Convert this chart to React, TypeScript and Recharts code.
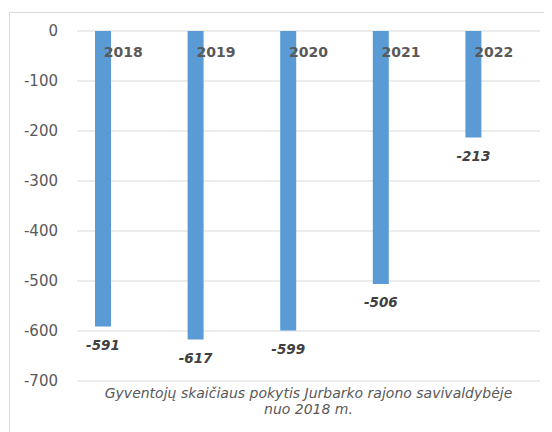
import React from "react";
import { BarChart, Bar, XAxis, YAxis, CartesianGrid, LabelList } from "recharts";

const years = ["2018", "2019", "2020", "2021", "2022"];
const changes = [-591, -617, -599, -506, -213];
const yTicks = [0, -100, -200, -300, -400, -500, -600, -700];
const captionLines = [
  "Gyventojų skaičiaus pokytis Jurbarko rajono savivaldybėje",
  "nuo 2018 m.",
];

const data = years.map((y, i) => ({ year: y, value: changes[i], empty: null }));

const FONT = "'DejaVu Sans', sans-serif";
const PLOT_TOP = 23;

const YearTick = (props: any) => {
  const { x, payload } = props;
  return (
    <text
      x={x}
      y={PLOT_TOP + 21}
      textAnchor="middle"
      dominantBaseline="central"
      fill="#595959"
      fontFamily={FONT}
      fontSize={14}
      fontWeight="bold"
    >
      {payload.value}
    </text>
  );
};

const ValueLabel = (props: any) => {
  const { x, y, width, height, value } = props;
  const bottom = Math.max(y, y + height);
  return (
    <text
      x={x + width / 2}
      y={bottom + 18}
      textAnchor="middle"
      dominantBaseline="central"
      fill="#404040"
      fontFamily={FONT}
      fontSize={13.5}
      fontWeight="bold"
      fontStyle="italic"
    >
      {value}
    </text>
  );
};

export default function App() {
  return (
    <div style={{ position: "relative", width: 544, height: 424, overflow: "hidden" }}>
      <div
        style={{
          position: "absolute",
          left: 1,
          top: 4,
          width: 600,
          height: 600,
          border: "1px solid #d9d9d9",
          boxSizing: "border-box",
        }}
      />
      <div style={{ position: "absolute", left: 0, top: 0 }}>
        <BarChart
          width={544}
          height={424}
          data={data}
          margin={{ top: 3, right: 12, bottom: 51, left: 0 }}
          barSize={16}
          barGap={24}
        >
          <CartesianGrid horizontal vertical={false} stroke="#d9d9d9" />
          <XAxis
            dataKey="year"
            orientation="top"
            height={20}
            axisLine={false}
            tickLine={false}
            tick={<YearTick />}
            interval={0}
          />
          <YAxis
            domain={[-700, 0]}
            ticks={yTicks}
            width={69}
            axisLine={false}
            tickLine={false}
            tickSize={0}
            tickMargin={19}
            tick={{ fill: "#595959", fontFamily: FONT, fontSize: 15 }}
            interval={0}
          />
          <Bar dataKey="value" fill="#5B9BD5" isAnimationActive={false}>
            <LabelList dataKey="value" content={<ValueLabel />} />
          </Bar>
          <Bar dataKey="empty" fill="#ED7D31" isAnimationActive={false} />
        </BarChart>
      </div>
      <div
        style={{
          position: "absolute",
          left: 69,
          width: 463,
          top: 377,
          textAlign: "center",
          fontFamily: FONT,
          fontStyle: "italic",
          fontSize: 14,
          lineHeight: "16px",
          color: "#595959",
        }}
      >
        {captionLines.map((l) => (
          <div key={l}>{l}</div>
        ))}
      </div>
    </div>
  );
}
